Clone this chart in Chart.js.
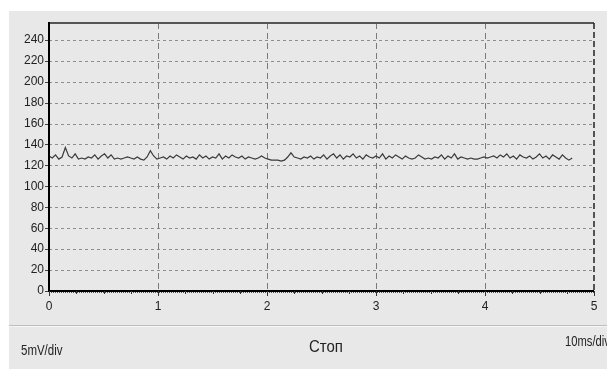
<!DOCTYPE html>
<html><head><meta charset="utf-8">
<script src="https://cdn.jsdelivr.net/npm/chart.js@4/dist/chart.umd.min.js"></script>
<style>
html,body{margin:0;padding:0;background:#fff;width:607px;height:369px;overflow:hidden;font-family:"Liberation Sans Narrow","Liberation Sans",Arial,sans-serif;}
#panel{position:absolute;left:9px;top:11px;width:598px;height:358px;background:#e8e8e8;}
#sep{position:absolute;left:9px;top:325px;width:598px;height:1px;background:#bdbdbd;border-bottom:1px solid #f6f6f6;}
#wrap{position:absolute;left:0;top:0;width:607px;height:369px;}
.lbl{position:absolute;color:#222;white-space:nowrap;transform-origin:0 0;}
</style></head>
<body>
<div id="panel"></div>
<div id="sep"></div>
<div id="wrap"><canvas id="c" width="607" height="369"></canvas></div>
<div class="lbl" id="l1" style="left:21px;top:342px;font-size:14px;transform:scaleX(0.82);">5mV/div</div>
<div class="lbl" id="l2" style="left:309px;top:337px;font-size:17px;transform:scaleX(0.88);">Стоп</div>
<div class="lbl" id="l3" style="left:565px;top:333px;font-size:14px;transform:scaleX(0.8);">10ms/div</div>
<script>
// divisions (10 ms each) on the time axis
const xTickLabels = ['0','1','2','3','4','5'];
const yTickLabels = ['0','20','40','60','80','100','120','140','160','180','200','220','240'];
const sampleStep = 0.03; // divisions between samples
const signal = [
129,127,130,126,128,137,129,127,131,126,127,126,128,127,130,126,129,131,127,130,126,127,126,127,128,127,126,128,126,125,128,134,129,126,
127,128,126,129,127,130,128,126,129,127,128,126,130,127,129,126,128,127,131,126,129,127,130,128,127,129,126,128,127,126,127,129,127,
126,125,125,125,124,125,128,132,128,127,126,128,127,129,126,128,127,130,126,129,131,127,130,126,129,128,131,127,129,126,130,128,127,
129,127,131,126,129,127,130,128,126,129,127,126,127,130,128,126,127,126,128,127,130,126,129,127,131,126,128,127,126,127,126,126,127,128,
127,128,129,127,130,128,131,127,129,126,130,128,127,129,126,128,131,127,129,126,130,128,126,130,127,125,127
];
const points = signal.map((v,i)=>({x: +(i*sampleStep).toFixed(2), y: v}));

const FONT = "'Liberation Sans Narrow','Liberation Sans',Arial,sans-serif";

const gridPlugin = {
  id:'scopeGrid',
  beforeDatasetsDraw(chart){
    const {ctx, chartArea:a, scales:{x,y}} = chart;
    ctx.save();
    ctx.strokeStyle = '#8e8e8e'; ctx.lineWidth = 1; ctx.setLineDash([3,3]);
    yTickLabels.forEach(t=>{
      const v = +t; if (v===0) return;
      const py = Math.round(y.getPixelForValue(v))+0.5;
      ctx.beginPath(); ctx.moveTo(a.left, py); ctx.lineTo(a.right, py); ctx.stroke();
    });
    ctx.strokeStyle = '#7a7a7a'; ctx.setLineDash([6,4]);
    xTickLabels.forEach(t=>{
      const v = +t; if (v===0 || v===5) return;
      const px = Math.round(x.getPixelForValue(v))+0.5;
      ctx.beginPath(); ctx.moveTo(px, a.top); ctx.lineTo(px, a.bottom); ctx.stroke();
    });
    ctx.setLineDash([]);
    ctx.strokeStyle = '#444';
    yTickLabels.forEach(t=>{
      const py = Math.round(y.getPixelForValue(+t))+0.5;
      ctx.beginPath(); ctx.moveTo(a.left-4, py); ctx.lineTo(a.left, py); ctx.stroke();
    });
    ctx.restore();
  },
  afterDatasetsDraw(chart){
    const {ctx, chartArea:a, scales:{x,y}} = chart;
    ctx.save();
    ctx.strokeStyle = '#555'; ctx.lineWidth = 2;
    ctx.beginPath(); ctx.moveTo(a.left, a.top); ctx.lineTo(a.right, a.top); ctx.stroke();
    ctx.strokeStyle = '#222'; ctx.lineWidth = 1.5; ctx.setLineDash([6,3]);
    ctx.beginPath(); ctx.moveTo(a.right, a.top); ctx.lineTo(a.right, a.bottom); ctx.stroke();
    ctx.setLineDash([]);
    ctx.strokeStyle = '#000'; ctx.lineWidth = 2;
    ctx.beginPath(); ctx.moveTo(a.left, a.top-1); ctx.lineTo(a.left, a.bottom+1); ctx.stroke();
    ctx.beginPath(); ctx.moveTo(a.left, a.bottom); ctx.lineTo(a.right, a.bottom); ctx.stroke();
    ctx.strokeStyle = '#555'; ctx.lineWidth = 1; ctx.setLineDash([1,1]);
    ctx.beginPath(); ctx.moveTo(a.left, a.bottom+1.5); ctx.lineTo(a.right, a.bottom+1.5); ctx.stroke();
    ctx.setLineDash([]);
    ctx.strokeStyle = '#333'; ctx.lineWidth = 1;
    for (let q=0;q<=20;q++){
      const px = Math.round(x.getPixelForValue(q/4))+0.5;
      const len = (q%4===0)?5:3;
      ctx.beginPath(); ctx.moveTo(px, a.bottom); ctx.lineTo(px, a.bottom+len); ctx.stroke();
    }
    ctx.restore();
  }
};

new Chart(document.getElementById('c'), {
  type:'line',
  data:{datasets:[{data:points, borderColor:'#3a3a3a', borderWidth:1.2, pointRadius:0, tension:0, fill:false}]},
  options:{
    responsive:false, animation:false,
    layout:{padding:{top:23,right:13,bottom:48,left:0}},
    plugins:{legend:{display:false}, tooltip:{enabled:false}},
    scales:{
      x:{type:'linear', min:0, max:5,
        afterFit(s){ s.height = 30; },
        afterBuildTicks(s){ s.ticks = xTickLabels.map(t=>({value:+t})); },
        grid:{display:false, drawTicks:false}, border:{display:false},
        ticks:{color:'#222', padding:8, font:{family:FONT, size:12}, maxRotation:0,
          callback:(v)=>String(v)}},
      y:{type:'linear', min:0, max:256,
        afterFit(s){ s.width = 49; },
        afterBuildTicks(s){ s.ticks = yTickLabels.map(t=>({value:+t})); },
        grid:{display:false, drawTicks:false}, border:{display:false},
        ticks:{color:'#222', padding:5, font:{family:FONT, size:12},
          callback:(v)=>String(v)}}
    }
  },
  plugins:[gridPlugin]
});
</script>
</body></html>
